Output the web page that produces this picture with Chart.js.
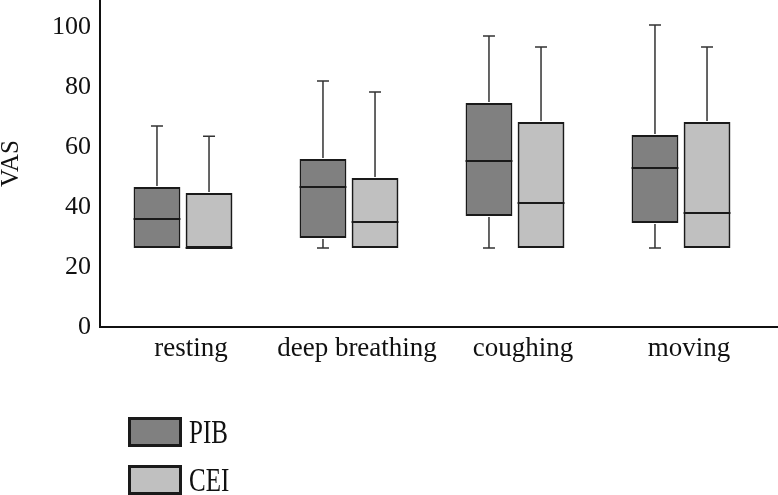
<!DOCTYPE html>
<html>
<head>
<meta charset="utf-8">
<script src="https://cdn.jsdelivr.net/npm/chart.js@4/dist/chart.umd.min.js"></script>
<style>
    body { margin: 0; background: #fff; }
    #wrap { position: relative; width: 778px; height: 495px; }
    .legend-item { position: absolute; left: 128px; display: flex; align-items: center;
        font-family: "Liberation Serif", serif; font-size: 25px; color: #111; }
    .legend-item span.swatch { display: inline-block; width: 48px; height: 24px;
        border: 3px solid #1a1a1a; margin-right: 7px; }
    .legend-item span.txt { display: inline-block; transform: scaleY(1.35); }
</style>
</head>
<body>
<div id="wrap">
    <canvas id="boxChart" width="778" height="495"></canvas>
</div>
<script>
const categories = ["resting", "deep breathing", "coughing", "moving"];
const seriesNames = ["PIB", "CEI"];
const yTicks = [0, 20, 40, 60, 80, 100];

// PIB
const pibMin = [26.3, 26.3, 26.3, 26.3];
const pibQ1 = [26.3, 29.7, 37, 34.7];
const pibMedian = [36, 46.7, 55.3, 53];
const pibQ3 = [46.7, 56, 74.7, 64];
const pibMax = [67, 82, 97, 100.7];

// CEI
const ceiMin = [26.3, 26.3, 26.3, 26.3];
const ceiQ1 = [26.3, 26.3, 26.3, 26.3];
const ceiMedian = [26.3, 35, 41.3, 38];
const ceiQ3 = [44.7, 49.7, 68.3, 68.3];
const ceiMax = [63.6, 78.3, 93.3, 93.3];

const colors = ["#808080", "#c0c0c0"];

const stats = [
    { min: pibMin, q1: pibQ1, median: pibMedian, q3: pibQ3, max: pibMax },
    { min: ceiMin, q1: ceiQ1, median: ceiMedian, q3: ceiQ3, max: ceiMax }
];

// whiskers, medians and the long x axis line
const boxExtras = {
    id: "boxExtras",
    afterDatasetsDraw(chart) {
        const ctx = chart.ctx;
        const y = chart.scales.y;
        ctx.save();
        stats.forEach((s, di) => {
            const meta = chart.getDatasetMeta(di);
            meta.data.forEach((bar, i) => {
                const cx = bar.x;
                const half = bar.width / 2;
                const capHalf = 6;
                const yMax = y.getPixelForValue(s.max[i]);
                const yQ3 = y.getPixelForValue(s.q3[i]);
                const yMin = y.getPixelForValue(s.min[i]);
                const yQ1 = y.getPixelForValue(s.q1[i]);
                ctx.strokeStyle = "#333";
                ctx.lineWidth = 1.5;
                ctx.beginPath();
                ctx.moveTo(cx, yQ3 - 1); ctx.lineTo(cx, yMax);
                ctx.moveTo(cx - capHalf, yMax); ctx.lineTo(cx + capHalf, yMax);
                if (s.min[i] < s.q1[i]) {
                    ctx.moveTo(cx, yQ1 + 1); ctx.lineTo(cx, yMin);
                    ctx.moveTo(cx - capHalf, yMin); ctx.lineTo(cx + capHalf, yMin);
                }
                ctx.stroke();
                const yMed = y.getPixelForValue(s.median[i]);
                ctx.strokeStyle = "#1a1a1a";
                ctx.lineWidth = 2;
                ctx.beginPath();
                ctx.moveTo(cx - half, yMed); ctx.lineTo(cx + half, yMed);
                ctx.stroke();
            });
        });
        const area = chart.chartArea;
        ctx.strokeStyle = "#111";
        ctx.lineWidth = 2;
        ctx.beginPath();
        ctx.moveTo(area.left - 1, area.bottom);
        ctx.lineTo(chart.width, area.bottom);
        ctx.moveTo(area.left, area.bottom);
        ctx.lineTo(area.left, 0);
        ctx.stroke();
        ctx.restore();
    }
};

const ctx = document.getElementById("boxChart").getContext("2d");

const chart = new Chart(ctx, {
    type: "bar",
    data: {
        labels: categories,
        datasets: seriesNames.map((name, index) => ({
            label: name,
            data: stats[index].q1.map((q, i) => [q, stats[index].q3[i]]),
            backgroundColor: colors[index],
            borderColor: "#1a1a1a",
            borderWidth: 2,
            borderSkipped: false,
            barPercentage: 0.9,
            categoryPercentage: 0.627
        }))
    },
    options: {
        responsive: false,
        animation: false,
        layout: { padding: { left: 0, right: 14, top: 0, bottom: 128 } },
        plugins: {
            legend: { display: false },
            tooltip: { enabled: false }
        },
        scales: {
            x: {
                grid: { display: false, drawTicks: false },
                border: { display: false },
                ticks: {
                    color: "#111",
                    padding: 6,
                    labelOffset: 8,
                    font: { family: "Liberation Serif", size: 27 }
                },
                afterFit(scale) {
                    scale.height = 40;
                    scale.paddingLeft = 0;
                    scale.paddingRight = 0;
                }
            },
            y: {
                min: 0,
                max: 109,
                grid: { display: false, drawTicks: false },
                border: { display: false },
                afterBuildTicks(scale) {
                    scale.ticks = yTicks.map(v => ({ value: v }));
                },
                ticks: {
                    color: "#111",
                    padding: 9,
                    font: { family: "Liberation Serif", size: 26 }
                },
                title: {
                    display: true,
                    text: "VAS",
                    color: "#111",
                    padding: { top: -4, bottom: 0 },
                    font: { family: "Liberation Serif", size: 25 }
                },
                afterFit(scale) {
                    scale.width = 100;
                    scale.paddingTop = 0;
                    scale.paddingBottom = 0;
                }
            }
        }
    },
    plugins: [boxExtras]
});

// legend below the chart
const wrap = document.getElementById("wrap");
seriesNames.forEach((name, index) => {
    const item = document.createElement("div");
    item.className = "legend-item";
    item.style.top = (417 + index * 48) + "px";
    item.innerHTML = `<span class="swatch" style="background:${colors[index]}"></span><span class="txt">${name}</span>`;
    wrap.appendChild(item);
});
</script>
</body>
</html>
